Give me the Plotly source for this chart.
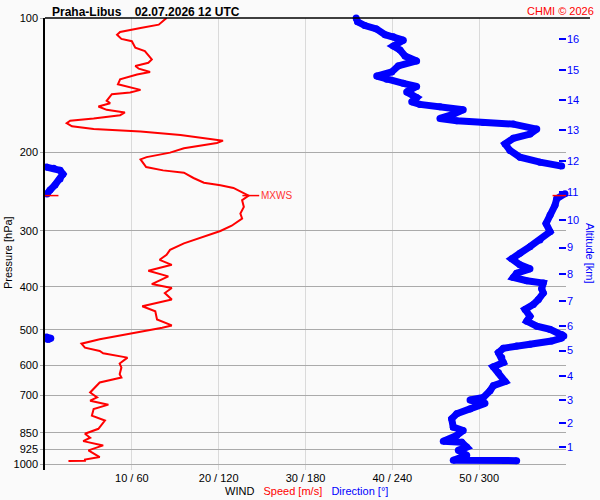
import math

import plotly.graph_objects as go

# wind speed profile: pressure [hPa] and speed [m/s]
speed_p = [
    100, 103.5, 105.3, 107.5, 109.0, 111.4, 112.7, 116.6, 118.6, 123.8,
    126.0, 128.1, 129.9, 132.1, 133.8, 137.2, 140.8, 142.4, 144.9, 146.9,
    148.2, 153.3, 155.2, 157.9, 160.6, 162.8, 165.1, 167.9, 169.9, 172.0,
    174.9, 177.4, 179.5, 182.9, 185.8, 188.3, 190.6, 195.8, 200.3, 203.3,
    205.0, 207.4, 215.8, 219.5, 222.2, 228.3, 233.9, 237.0, 240.3, 250.0,
    256.0, 265.0, 274.3, 281.4, 292.1, 300.1, 310.6, 319.8, 330.8, 339.4,
    348.2, 357.3, 368.4, 379.3, 394.6, 402.8, 413.3, 427.5, 442.5, 454.0,
    473.7, 488.5, 494.5, 508.9, 524.8, 536.8, 548.0, 557.3, 564.0, 576.8,
    594.8, 607.1, 628.1, 639.2, 655.7, 690.3, 708.2, 720.3, 735.2, 751.6,
    777.8, 798.0, 832.8, 854.4, 872.1, 887.5, 907.3, 930.7, 963.3, 976.2,
    981.5, 983.0,
]
speed_ms = [
    14.0, 13.1, 11.0, 8.65, 8.3, 8.8, 10.0, 10.4, 11.5, 12.3,
    11.9, 10.4, 10.8, 12.1, 10.6, 8.65, 8.4, 9.4, 11.0, 9.8,
    7.7, 7.1, 7.5, 6.15, 7.1, 9.2, 8.65, 5.6, 2.9, 2.5,
    3.1, 5.6, 11.0, 15.6, 18.6, 20.5, 19.8, 16.0, 14.4, 12.8,
    11.7, 11.0, 11.65, 13.6, 16.0, 17.1, 18.3, 20.2, 21.7, 23.45,
    22.7, 22.9, 22.5, 22.7, 21.5, 20.2, 17.9, 16.0, 14.4, 14.0,
    13.2, 14.6, 11.9, 14.2, 12.3, 14.6, 13.8, 14.6, 11.2, 12.7,
    12.9, 14.6, 13.5, 10.2, 6.3, 4.2, 4.6, 6.3, 6.7, 9.5,
    8.6, 8.8, 8.6, 8.8, 6.3, 5.2, 6.0, 5.2, 7.3, 5.6,
    5.4, 6.9, 6.15, 4.6, 5.2, 4.4, 6.7, 5.0, 6.3, 4.6,
    4.6, 2.7,
]

# wind direction profile [deg]; None splits the trace where it wraps 360 -> 0
dir_p = [
    100, 102, 104.0, 105.8, 109.0, 110.2, 112.1, 115.6, 118.0, 121.7,
    124.8, 128.1, 132.1, 134.9, 137.2, 140.1, 142.4, 146.4, 150.8, 154.1,
    156.2, 158.1, 160.6, 164.3, 167.9, 169.9, 171.4, 172.9, 177.4, 182.0,
    186.0, 191.5, 198.1, 205.0, 210.4, 214.7, None,
    215.8, 217.0, 219.5, 223.8, 229.5, 236.6, 242.8, 247.9, None,
    247.5, 254.0, 262.8, 276.4, 288.6, 301.2, 314.4, 325.4, 336.7, 346.5,
    357.3, 364.8, 373.0, 381.4, 387.9, 392.6, 404.1, 413.3, 427.5, 438.5,
    449.8, 465.9, 477.9, 490.4, 498.7, 511.6, 516.0, None,
    518.7, 522.0, 525.4, None,
    521.5, 529.5, 538.5, 543.2, 549.6, 562.1, 576.8, 591.7, 604.9, 622.6,
    652.4, 666.9, 684.3, 708.2, 717.7, 730.3, 751.6, 770.9, 791.0, 825.8,
    840.1, 862.1, 887.5, 892.1, 915.2, 930.7, 954.9, 979.7, 981.5,
]
dir_deg = [
    215, 216, 221, 229, 235, 240.7, 247.6, 240.7, 245.3, 248.8,
    256.8, 244.1, 239.6, 229.2, 236.1, 247.6, 256.8, 249.9, 256.8, 253.4,
    259.1, 272.9, 289, 282.1, 272.9, 284.5, 302.9, 323.6, 339.8, 335.1,
    323.6, 317.9, 321.3, 328.2, 342, 357, None,
    1, 6, 10.4, 12.4, 10.4, 6.9, 3.5, 1.4, None,
    359.3, 353.6, 352.4, 349, 346.2, 349, 342, 335.1, 328.2, 322.5,
    328.2, 335.1, 325.9, 323.6, 332.9, 344.3, 343.2, 344.3, 340.9, 337.4,
    331.7, 335.1, 332.9, 339.8, 349, 357, 358.5, None,
    1.0, 4.0, 2.0, None,
    357, 350, 335.1, 325.9, 316.7, 313.3, 315.6, 316.7, 309.8, 313.3,
    317.9, 309.8, 307.5, 302.9, 293.7, 304, 293.7, 284.5, 281, 282.1,
    289, 284.5, 275.2, 287.9, 291.4, 285.6, 291.4, 282.1, 325.9,
]

# axis ticks
pressure_ticks = [100, 200, 300, 400, 500, 600, 700, 850, 925, 1000]
wind_ticks = [10, 20, 30, 40, 50, 60]
wind_labels = ["10 / 60", "20 / 120", "30 / 180", "40 / 240", "50 / 300", ""]
alt_km = [1, 2, 3, 4, 5, 6, 7, 8, 9, 10, 11, 12, 13, 14, 15, 16]
alt_p = [915, 810, 717, 634, 556, 491, 430, 375, 327, 284, 245, 209, 178, 153, 130.6, 111.7]

# level of maximum wind
mxws_p = 250
mxws_speed = 23.7
mxws_dir = [3, 357]

FONT = "Liberation Sans, Arial, sans-serif"
BG = "#fafafa"
p_range = [math.log10(1030), 2]

fig = go.Figure()
fig.add_trace(
    go.Scatter(
        x=dir_deg, y=dir_p, xaxis="x2", yaxis="y2", mode="lines+markers",
        line={"color": "#0000ff", "width": 7}, marker={"color": "#0000ff", "size": 7},
        cliponaxis=False, connectgaps=False, hoverinfo="skip",
    )
)
fig.add_trace(
    go.Scatter(
        x=mxws_dir, y=[mxws_p] * len(mxws_dir), xaxis="x2", yaxis="y2", mode="markers",
        marker={"symbol": "line-ew", "size": 13, "line": {"color": "#ff0000", "width": 1.5}},
        hoverinfo="skip",
    )
)
fig.add_trace(
    go.Scatter(
        x=speed_ms, y=speed_p, mode="lines",
        line={"color": "#ff0000", "width": 2}, hoverinfo="skip",
    )
)
fig.add_trace(
    go.Scatter(
        x=[mxws_speed], y=[mxws_p], mode="markers",
        marker={"symbol": "line-ew", "size": 12, "line": {"color": "#ff0000", "width": 1.5}},
        cliponaxis=False, hoverinfo="skip",
    )
)

fig.update_layout(
    width=600,
    height=500,
    showlegend=False,
    paper_bgcolor=BG,
    plot_bgcolor=BG,
    margin={"l": 45, "r": 34, "t": 15, "b": 30},
    font={"family": FONT, "size": 11, "color": "black"},
    xaxis={
        "range": [0, 60], "tickvals": wind_ticks, "ticktext": wind_labels,
        "showgrid": True, "gridcolor": "#dadada", "gridwidth": 1,
        "zeroline": False, "showline": False, "ticks": "",
        "tickfont": {"size": 11},
    },
    xaxis2={"range": [0, 360], "overlaying": "x", "visible": False},
    yaxis={
        "type": "log", "range": p_range, "tickvals": pressure_ticks,
        "ticktext": [str(v) for v in pressure_ticks],
        "showgrid": True, "gridcolor": "#aaaaaa", "gridwidth": 1,
        "zeroline": False, "showline": True, "linecolor": "black", "linewidth": 1.5,
        "ticks": "outside", "ticklen": 3, "tickcolor": "#aaaaaa",
        "tickfont": {"size": 11},
    },
    yaxis2={
        "type": "log", "range": p_range, "overlaying": "y", "side": "right",
        "tickvals": alt_p, "ticktext": [str(v) for v in alt_km],
        "showgrid": False, "zeroline": False, "showline": False,
        "ticks": "inside", "ticklen": 7, "tickwidth": 1.5, "tickcolor": "#0000ff",
        "tickfont": {"size": 11, "color": "#0000ff"},
    },
)

# top frame line running past the altitude axis
fig.add_shape(
    type="line", xref="paper", yref="paper", x0=0, x1=1.046, y0=1, y1=1,
    line={"color": "black", "width": 1.5},
)

fig.add_annotation(
    text="<b>Praha-Libus\u00a0\u00a0\u00a0\u00a002.07.2026 12 UTC</b>",
    xref="paper", yref="paper", x=0.0096, y=1.033, xanchor="left", yanchor="top",
    showarrow=False, font={"size": 12, "color": "black"},
)
fig.add_annotation(
    text="CHMI © 2026", xref="paper", yref="paper", x=1.0576, y=1.033,
    xanchor="right", yanchor="top", showarrow=False, font={"size": 11, "color": "#ff0000"},
)
fig.add_annotation(
    text=(
        "WIND\u00a0\u00a0\u00a0<span style='color:#ff0000'>Speed [m/s]</span>"
        "\u00a0\u00a0\u00a0<span style='color:#0000ff'>Direction [°]</span>"
    ),
    xref="paper", yref="paper", x=0.502, y=-0.046, xanchor="center", yanchor="middle",
    showarrow=False, font={"size": 11, "color": "black"},
)
fig.add_annotation(
    text="Pressure [hPa]", textangle=-90, xref="paper", yref="paper",
    x=-0.072, y=0.481, xanchor="center", yanchor="middle", showarrow=False,
    font={"size": 11, "color": "black"},
)
fig.add_annotation(
    text="Altitude [km]", textangle=90, xref="paper", yref="paper",
    x=1.045, y=0.479, xanchor="center", yanchor="middle", showarrow=False,
    font={"size": 11, "color": "#0000ff"},
)
fig.add_annotation(
    text="MXWS", x=mxws_speed, y=math.log10(mxws_p), xanchor="left", yanchor="middle",
    xshift=8, showarrow=False, font={"size": 10, "color": "#ff3333"},
)

# the page body has a default 8px margin; drop it so the 600x500 figure fills the window
fig.write_html(
    "out.html",
    config={"displayModeBar": False},
    post_script="document.body.style.margin = '0';",
)
